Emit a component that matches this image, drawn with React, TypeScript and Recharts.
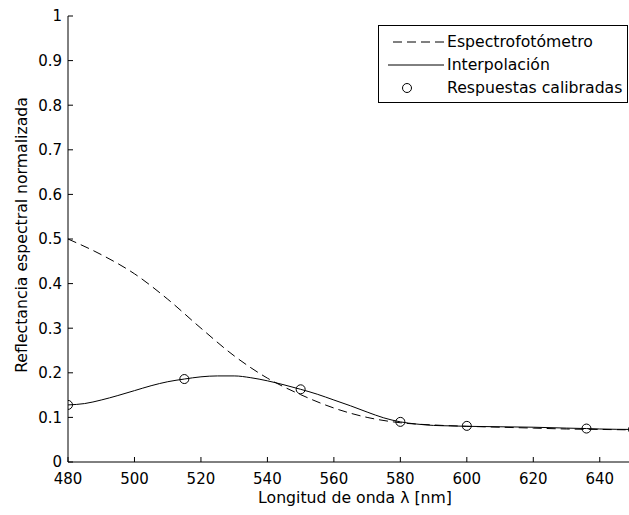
import React from 'react';
import { ComposedChart, Line, Scatter, XAxis, YAxis, Legend, Label } from 'recharts';

const spectroWavelengths = [480, 490, 500, 510, 520, 530, 540, 550, 560, 570, 580, 590, 600, 610, 620, 630, 640, 650];
const spectroValues = [0.5, 0.465, 0.422, 0.365, 0.3, 0.238, 0.188, 0.151, 0.121, 0.1, 0.088, 0.083, 0.08, 0.078, 0.076, 0.074, 0.073, 0.072];

const interpWavelengths = [480, 485, 490, 495, 500, 505, 510, 515, 520, 525, 530, 535, 540, 545, 550, 555, 560, 565, 570, 575, 580, 585, 590, 595, 600, 610, 620, 630, 636, 640, 650];
const interpValues = [0.128, 0.131, 0.139, 0.149, 0.16, 0.171, 0.18, 0.186, 0.191, 0.193, 0.193, 0.189, 0.182, 0.173, 0.163, 0.152, 0.139, 0.126, 0.112, 0.099, 0.09, 0.085, 0.082, 0.081, 0.08, 0.079, 0.078, 0.076, 0.075, 0.074, 0.073];

const calibWavelengths = [480, 515, 550, 580, 600, 636, 650];
const calibValues = [0.128, 0.186, 0.163, 0.09, 0.081, 0.075, 0.073];

const xTicks = [480, 500, 520, 540, 560, 580, 600, 620, 640];
const yTicks = [0, 0.1, 0.2, 0.3, 0.4, 0.5, 0.6, 0.7, 0.8, 0.9, 1];

const legendLabels = ['Espectrofotómetro', 'Interpolación', 'Respuestas calibradas'];
const xLabel = 'Longitud de onda λ [nm]';
const yLabel = 'Reflectancia espectral normalizada';

const spectroData = spectroWavelengths.map((w, i) => ({ w, v: spectroValues[i] }));
const interpData = interpWavelengths.map((w, i) => ({ w, v: interpValues[i] }));
const calibData = calibWavelengths.map((w, i) => ({ w, v: calibValues[i] }));

const FONT = '"DejaVu Sans", sans-serif';
const FS = 15;
const FS_LABEL = 15.7;

const renderLegend = () => (
  <div style={{ width: 250, height: 78, boxSizing: 'border-box', border: '1px solid #000', background: '#fff' }}>
    <svg width={248} height={76} style={{ display: 'block' }}>
      <line x1={14} y1={16} x2={65} y2={16} stroke="#000" strokeWidth={1} strokeDasharray="9 5" />
      <text x={68} y={21} fontFamily={FONT} fontSize={FS_LABEL} fill="#000">{legendLabels[0]}</text>
      <line x1={9} y1={39} x2={65} y2={39} stroke="#000" strokeWidth={1} />
      <text x={68} y={44} fontFamily={FONT} fontSize={FS_LABEL} fill="#000">{legendLabels[1]}</text>
      <circle cx={28} cy={62} r={4.5} fill="none" stroke="#000" strokeWidth={1} />
      <text x={68} y={67} fontFamily={FONT} fontSize={FS_LABEL} fill="#000">{legendLabels[2]}</text>
    </svg>
  </div>
);

const circleShape = (props: any) => (
  <circle cx={props.cx} cy={props.cy} r={4.5} fill="none" stroke="#000" strokeWidth={1} />
);

const tickStyle = { fontFamily: FONT, fontSize: FS, fill: '#000' };

export default function App() {
  return (
    <div style={{ position: 'absolute', left: 0, top: 0, width: 629, height: 515, overflow: 'hidden', background: '#fff' }}>
      <ComposedChart width={640} height={515} margin={{ top: 16, right: 7, bottom: 0, left: 0 }}>
        <XAxis
          xAxisId="bottom"
          dataKey="w"
          type="number"
          domain={[480, 650]}
          ticks={xTicks}
          interval={0}
          allowDataOverflow
          height={53}
          tickSize={-5}
          tickMargin={16}
          tick={tickStyle}
          stroke="#000"
          tickLine={{ stroke: '#000' }}
          axisLine={{ stroke: '#000' }}
        >
          <Label
            content={() => (
              <text x={355} y={503} textAnchor="middle" fontFamily={FONT} fontSize={FS_LABEL} fill="#000">{xLabel}</text>
            )}
          />
        </XAxis>
        <XAxis
          xAxisId="top"
          orientation="top"
          type="number"
          domain={[480, 650]}
          ticks={xTicks}
          interval={0}
          allowDataOverflow
          height={0}
          tickSize={-5}
          tick={false}
          stroke="#000"
          tickLine={{ stroke: '#000' }}
          axisLine={{ stroke: '#000' }}
        />
        <YAxis
          yAxisId="left"
          type="number"
          domain={[0, 1]}
          ticks={yTicks}
          interval={0}
          allowDataOverflow
          width={68}
          tickSize={-5}
          tickMargin={11}
          tick={tickStyle}
          tickFormatter={(v: number) => String(Math.round(v * 10) / 10)}
          stroke="#000"
          tickLine={{ stroke: '#000' }}
          axisLine={{ stroke: '#000' }}
        >
          <Label
            content={() => (
              <text x={27} y={235} transform="rotate(-90 27 235)" textAnchor="middle" fontFamily={FONT} fontSize={FS_LABEL} fill="#000">{yLabel}</text>
            )}
          />
        </YAxis>
        <YAxis
          yAxisId="right"
          orientation="right"
          type="number"
          domain={[0, 1]}
          ticks={yTicks}
          interval={0}
          allowDataOverflow
          width={0}
          tickSize={-5}
          tick={false}
          stroke="#000"
          tickLine={{ stroke: '#000' }}
          axisLine={{ stroke: '#000' }}
        />
        <Line
          xAxisId="bottom"
          yAxisId="left"
          data={spectroData}
          dataKey="v"
          type="monotone"
          stroke="#000"
          strokeWidth={1}
          strokeDasharray="9 5"
          dot={false}
          activeDot={false}
          isAnimationActive={false}
          name={legendLabels[0]}
        />
        <Line
          xAxisId="bottom"
          yAxisId="left"
          data={interpData}
          dataKey="v"
          type="monotone"
          stroke="#000"
          strokeWidth={1}
          dot={false}
          activeDot={false}
          isAnimationActive={false}
          name={legendLabels[1]}
        />
        <Scatter
          xAxisId="bottom"
          yAxisId="left"
          data={calibData}
          dataKey="v"
          shape={circleShape}
          isAnimationActive={false}
          name={legendLabels[2]}
        />
        <Legend
          content={renderLegend}
          layout="vertical"
          align="center"
          verticalAlign="middle"
          wrapperStyle={{ position: 'absolute', left: 378, top: 25, width: 250, height: 78 }}
        />
      </ComposedChart>
    </div>
  );
}
